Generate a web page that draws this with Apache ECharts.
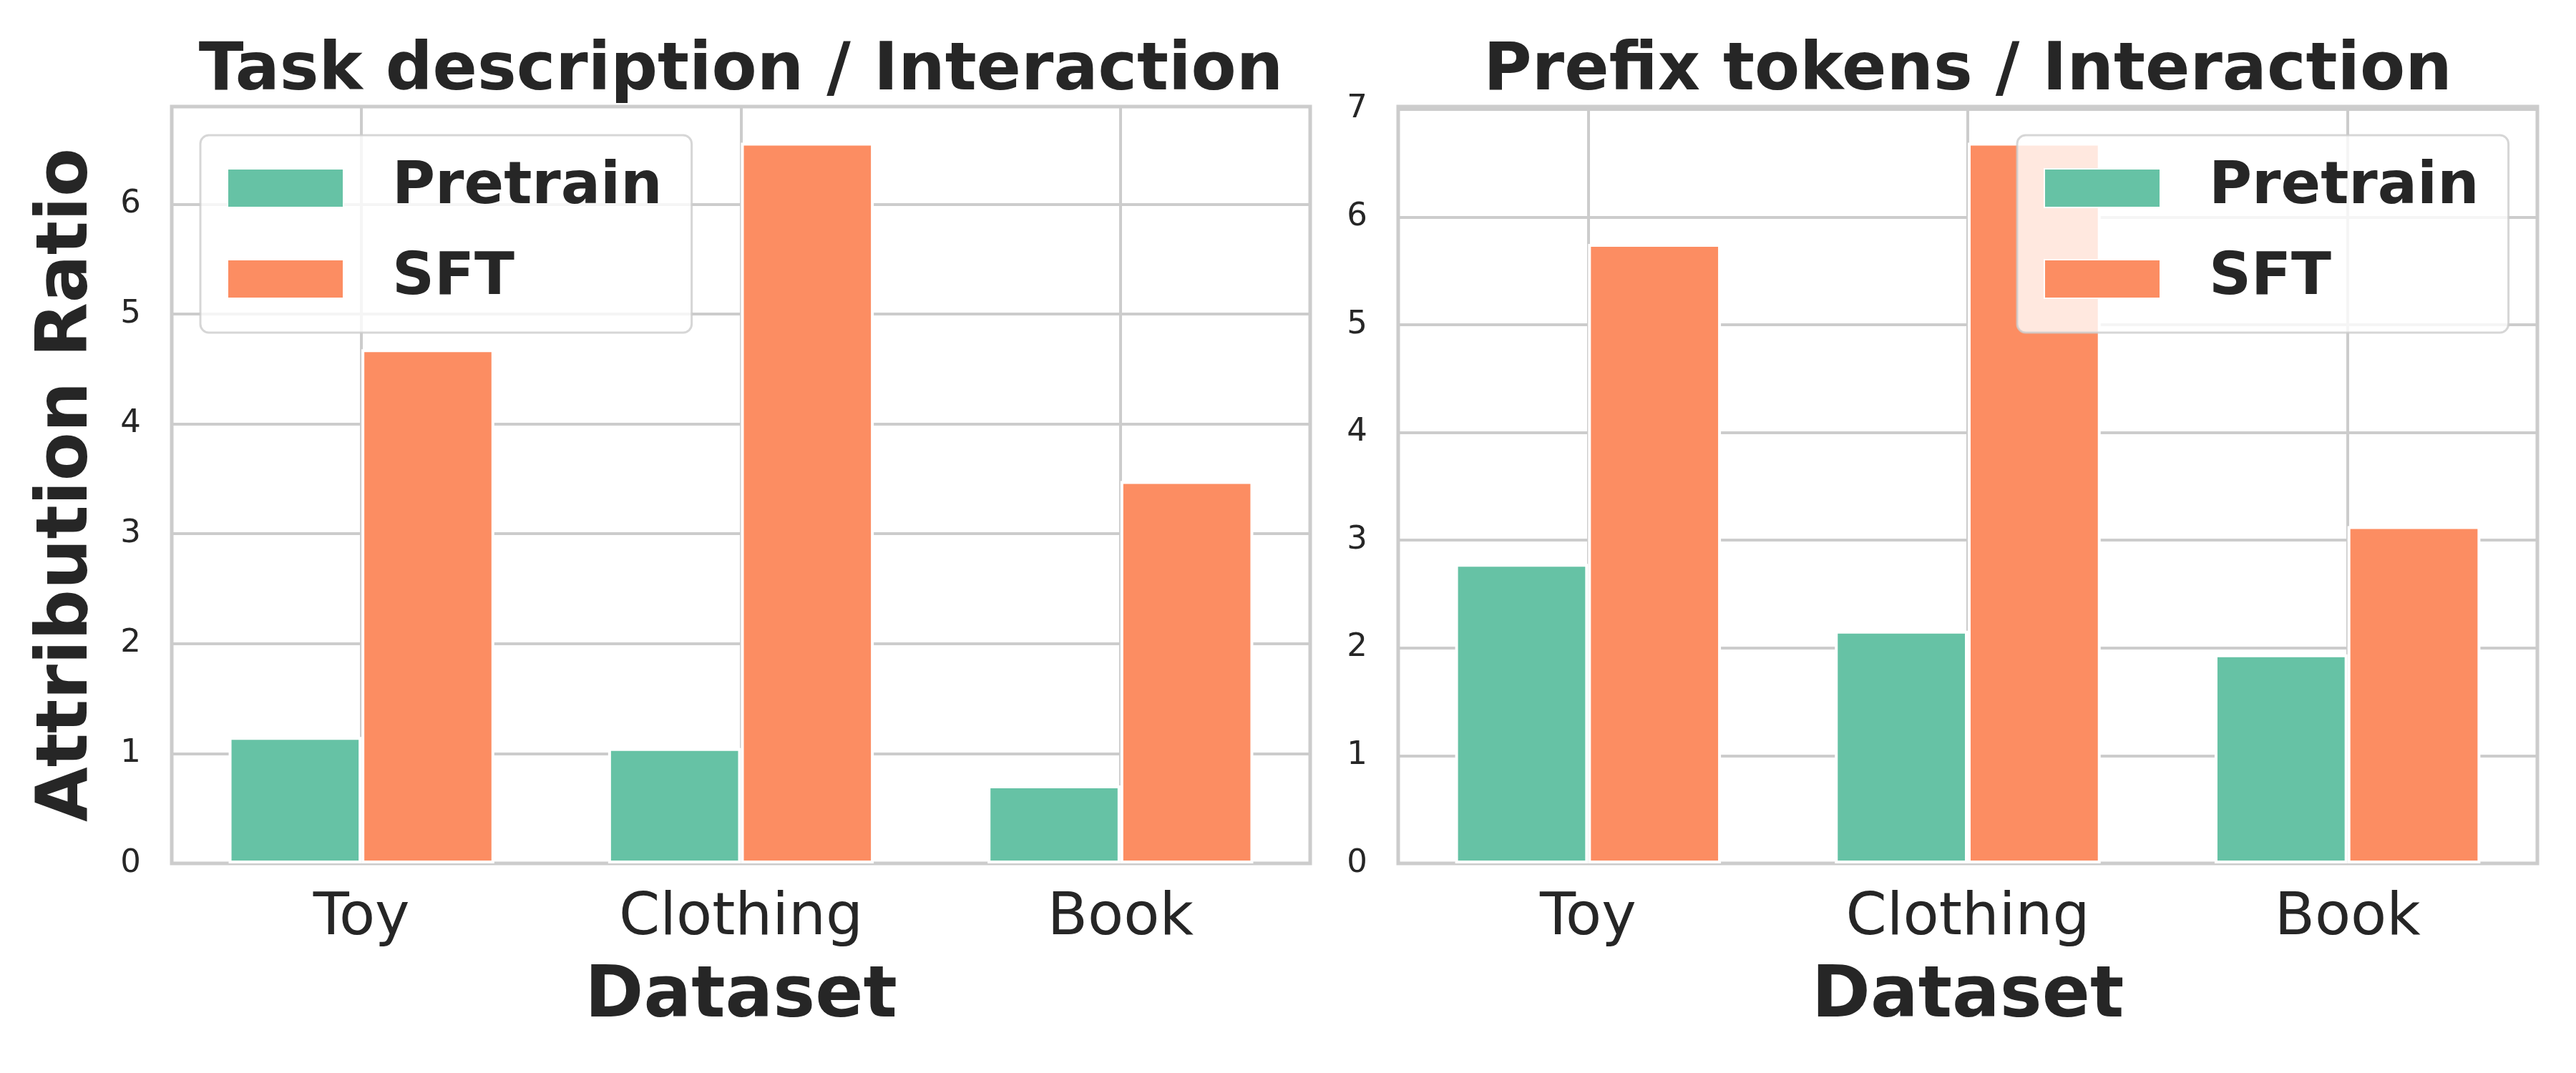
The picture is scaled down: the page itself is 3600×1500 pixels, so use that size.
<!DOCTYPE html>
<html>
<head>
<meta charset="utf-8">
<script src="https://cdn.jsdelivr.net/npm/echarts@6/dist/echarts.min.js"></script>
<style>
html, body { margin: 0; padding: 0; background: #ffffff; }
#chart { width: 3600px; height: 1500px; }
</style>
</head>
<body>
<div id="chart"></div>
<script>
// ---- data ----
const categories = ['Toy', 'Clothing', 'Book'];
const seriesNames = ['Pretrain', 'SFT'];
const taskPretrain = [1.15, 1.05, 0.71];
const taskSFT = [4.68, 6.56, 3.48];
const prefixPretrain = [2.78, 2.16, 1.94];
const prefixSFT = [5.75, 6.69, 3.13];
const panelTitles = ['Task description / Interaction', 'Prefix tokens / Interaction'];
const xAxisTitle = 'Dataset';
const yAxisTitle = 'Attribution Ratio';
const yTickStep = 1;

// ---- style ----
const FONT = "'DejaVu Sans', sans-serif";
const TXT = '#262626';
const GRIDC = '#cccccc';
const COLORS = ['#66c2a5', '#fc8d62'];

const panels = [
  { title: panelTitles[0], values: [taskPretrain, taskSFT], left: 240, width: 1591, yName: yAxisTitle, legendLeft: 280 },
  { title: panelTitles[1], values: [prefixPretrain, prefixSFT], left: 1954, width: 1592, yName: '', legendLeft: 2819 }
];
const GRID_TOP = 149, GRID_H = 1058;

// slots for vertical grid lines at category centres
const slots = [];
categories.forEach((c, i) => { slots.push('b' + i); slots.push(c); });
slots.push('end');

const grid = [], xAxis = [], yAxis = [], series = [], legend = [], graphic = [];

panels.forEach((p, i) => {
  grid.push({
    left: p.left, top: GRID_TOP, width: p.width, height: GRID_H,
    show: true, borderColor: GRIDC, borderWidth: 5, backgroundColor: 'transparent'
  });
  xAxis.push({
    type: 'category', gridIndex: i, data: categories,
    axisLine: { show: false }, axisTick: { show: false },
    axisLabel: { fontSize: 82, color: TXT, fontFamily: FONT, margin: 37 },
    splitLine: { show: false },
    name: xAxisTitle, nameLocation: 'middle', nameGap: 139,
    nameTextStyle: { fontSize: 99, fontWeight: 'bold', color: TXT, fontFamily: FONT }
  });
  xAxis.push({
    type: 'category', gridIndex: i, position: 'top', boundaryGap: false, data: slots,
    axisLine: { show: false }, axisTick: { show: false }, axisLabel: { show: false },
    splitLine: { show: true, interval: (idx) => idx % 2 === 1, lineStyle: { color: GRIDC, width: 4 } }
  });
  const allVals = p.values[0].concat(p.values[1]);
  yAxis.push({
    type: 'value', gridIndex: i, min: 0, max: Math.max(...allVals) * 1.05, interval: yTickStep,
    axisLine: { show: false }, axisTick: { show: false },
    axisLabel: {
      fontSize: 45, color: TXT, fontFamily: FONT, margin: 43,
      formatter: (v) => (Math.abs(v - Math.round(v)) < 1e-9 ? String(Math.round(v)) : '')
    },
    splitLine: { show: true, lineStyle: { color: GRIDC, width: 4 } },
    name: p.yName, nameLocation: 'middle', nameGap: 95, nameRotate: 90,
    nameTextStyle: { fontSize: 99, fontWeight: 'bold', color: TXT, fontFamily: FONT }
  });
  seriesNames.forEach((name, k) => {
    series.push({
      type: 'bar', name: name, xAxisIndex: 2 * i, yAxisIndex: i,
      data: p.values[k], barWidth: '35%', barGap: '0%',
      itemStyle: { color: COLORS[k], borderColor: '#ffffff', borderWidth: 4 },
      emphasis: { disabled: true }
    });
  });
  legend.push({
    data: seriesNames, orient: 'vertical', left: p.legendLeft, top: 189,
    icon: 'rect', itemWidth: 162, itemHeight: 54, itemGap: 45,
    padding: [33, 41, 34, 37],
    backgroundColor: 'rgba(255,255,255,0.8)', borderColor: 'rgba(204,204,204,0.8)',
    borderWidth: 3, borderRadius: 12, selectedMode: false,
    textStyle: { fontSize: 82, fontWeight: 'bold', color: TXT, fontFamily: FONT, padding: [0, 0, 0, 63] }
  });
  graphic.push({
    type: 'text', x: p.left + p.width / 2, y: 101,
    style: {
      text: p.title, font: 'bold 92px ' + FONT, fill: TXT,
      align: 'center', verticalAlign: 'middle', textAlign: 'center', textVerticalAlign: 'middle'
    }
  });
});

const chart = echarts.init(document.getElementById('chart'), null, { renderer: 'canvas' });
chart.setOption({
  backgroundColor: '#ffffff',
  animation: false,
  grid, xAxis, yAxis, series, legend, graphic
});
</script>
</body>
</html>
